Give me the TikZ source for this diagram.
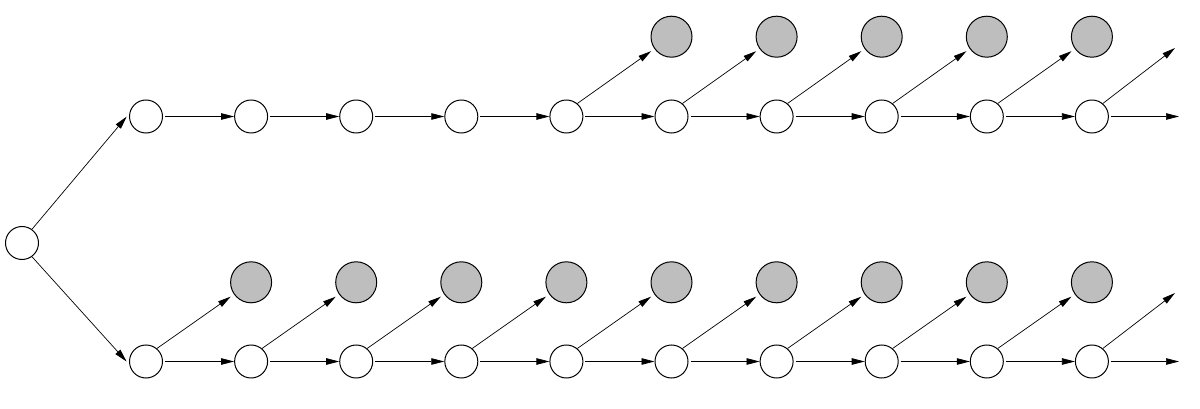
\documentclass[tikz,border=0pt]{standalone}
\usetikzlibrary{arrows.meta}
\definecolor{grayfill}{RGB}{190,190,190}
\begin{document}
\begin{tikzpicture}[x=1pt,y=-1pt,
  wnode/.style={circle,draw,line width=1pt,fill=white,minimum size=33pt,inner sep=0pt},
  gnode/.style={circle,draw,line width=1pt,fill=grayfill,minimum size=41pt,inner sep=0pt},
  arr/.style={-{Triangle[length=13pt,width=6.5pt]},line width=0.7pt},
]
\useasboundingbox (0,0) rectangle (1200,409);
\node[wnode] (root) at (22,243) {};
\foreach \i in {0,...,9}{
  \node[wnode] (t\i) at ({146+105.1*\i},116.5) {};
  \node[wnode] (b\i) at ({146+105.1*\i},361.5) {};
}
\foreach \i in {5,...,9}{
  \node[gnode] (tg\i) at ({146+105.1*\i},36.7) {};
}
\foreach \i in {1,...,9}{
  \node[gnode] (bg\i) at ({146+105.1*\i},282.3) {};
}
% root edges
\draw[arr,shorten >=4pt] (root.54) -- (t0.170);
\draw[arr,shorten >=4pt] (root.-54) -- (b0.-170);
% horizontal edges
\foreach \i [evaluate=\i as \j using int(\i+1)] in {0,...,8}{
  \draw[arr,shorten <=2pt] (t\i) -- (t\j);
  \draw[arr,shorten <=2pt] (b\i) -- (b\j);
}
% diagonal edges to gray
\foreach \i [evaluate=\i as \j using int(\i+1)] in {4,...,8}{
  \draw[arr,shorten >=4pt] (t\i.50) -- (tg\j);
}
\foreach \i [evaluate=\i as \j using int(\i+1)] in {0,...,8}{
  \draw[arr,shorten >=4pt] (b\i.50) -- (bg\j);
}
% free ends
\coordinate (tdE) at (1175,48);
\coordinate (thE) at (1179,116.5);
\coordinate (bdE) at (1175,293);
\coordinate (bhE) at (1179,361.5);
\draw[arr] (t9.50) -- (tdE);
\draw[arr,shorten <=2pt] (t9) -- (thE);
\draw[arr] (b9.50) -- (bdE);
\draw[arr,shorten <=2pt] (b9) -- (bhE);
\end{tikzpicture}
\end{document}
